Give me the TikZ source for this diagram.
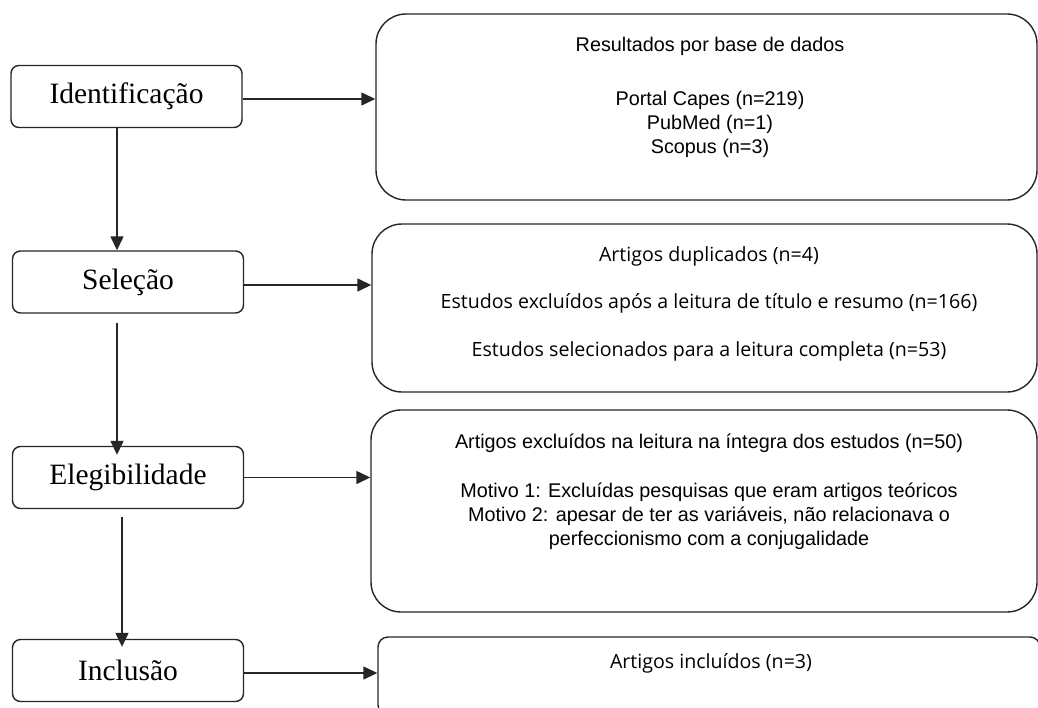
\documentclass[tikz,border=0pt]{standalone}
\usepackage{fontspec}
\setmainfont{Liberation Serif}
\newfontfamily\arialfont{Liberation Sans}
\newfontfamily\segoefont{Open Sans}
\usetikzlibrary{positioning,arrows.meta}
\tikzset{fase/.style={draw=black!85,line width=1.4pt,rounded corners=8pt,minimum width=231pt,minimum height=62pt,inner sep=0pt,font=\fontsize{29.5}{34}\selectfont},
  caixa/.style={draw=black!85,line width=1.4pt,rounded corners=30pt,inner sep=0pt},
  seta/.style={-{Triangle[length=14pt,width=13pt]},line width=1.4pt,black!85},
  txtarial/.style={font=\arialfont\fontsize{19.8}{24}\selectfont,align=center,inner sep=0pt,anchor=north},
  txtsegoe/.style={font=\segoefont\fontsize{19.6}{47.5}\selectfont,align=center,inner sep=0pt,anchor=north}}

\begin{document}
\begin{tikzpicture}[x=1pt,y=-1pt]
        \fill[white] (0,0) rectangle (1038,707);
        \useasboundingbox (0,0) rectangle (1038,707);
        \clip (0,0) rectangle (1038,707);
        % fases
        \node[fase] (ident) at (126.5,96.5) {Identificação};
        \node[fase] (sel) at (128,282) {Seleção};
        \node[fase] (eleg) at (128,477.5) {Elegibilidade};
        \node[fase] (incl) at (128,670.5) {Inclusão};
        % caixas da direita
        \node[caixa,minimum width=661pt,minimum height=186pt] (res) at (706.5,107) {};
        \node[caixa,minimum width=665pt,minimum height=168pt] (dup) at (704.5,308) {};
        \node[caixa,minimum width=666pt,minimum height=202pt] (exc) at (704,511) {};
        \node[caixa,rounded corners=10pt,minimum width=662pt,minimum height=78pt] (inc) at (709,676) {};
        % textos
        \node[txtarial] (restit) at (710,36.5) {Resultados por base de dados};
        \node[txtarial] (resbases) at (710,91) {Portal Capes (n=219)\\PubMed (n=1)\\Scopus (n=3)};
        \node[txtsegoe] (duptxt) at (709,246) {Artigos duplicados (n=4)\\Estudos excluídos após a leitura de título e resumo (n=166)\\Estudos selecionados para a leitura completa (n=53)};
        \node[txtarial] (exctxt) at (709,434) {Artigos excluídos na leitura na íntegra dos estudos (n=50)\\[25pt]Motivo 1: Excluídas pesquisas que eram artigos teóricos\\Motivo 2: apesar de ter as variáveis, não relacionava o\\perfeccionismo com a conjugalidade};
        \node[txtsegoe] (inctxt) at (711,653) {Artigos incluídos (n=3)};
        % setas verticais
        \draw[seta] ([xshift=-9.5pt]ident.south) -- ([xshift=-9.5pt]ident.south |- sel.north);
        \draw[seta] ([xshift=-11pt,yshift=-9pt]sel.south) -- ([xshift=-11pt,yshift=-9pt]sel.south |- eleg.north);
        \draw[seta] ([xshift=-6pt,yshift=-8pt]eleg.south) -- ([xshift=-6pt,yshift=-8pt]eleg.south |- incl.north);
        % setas horizontais
        \draw[seta] ([yshift=-2.5pt]ident.east) -- ([yshift=-2.5pt]ident.east -| res.west);
        \draw[seta] ([yshift=-3pt]sel.east) -- ([yshift=-3pt]sel.east -| dup.west);
        \draw[seta] (eleg.east) -- (eleg.east -| exc.west);
        \draw[seta] ([yshift=-2.5pt]incl.east) -- ([yshift=-2.5pt]incl.east -| inc.west);
\end{tikzpicture}
\end{document}
